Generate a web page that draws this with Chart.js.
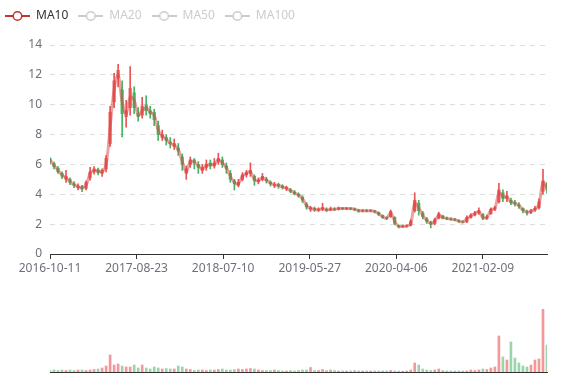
<!DOCTYPE html>
<html>
<head>
<meta charset="utf-8">
<script src="https://cdn.jsdelivr.net/npm/chart.js@4.4.1/dist/chart.umd.min.js"></script>
<style>
  html, body { margin: 0; padding: 0; background: #fff; }
  #wrap { position: relative; width: 577px; height: 380px; }
  #priceChart { position: absolute; left: 0; top: 0; }
  #volChart { position: absolute; left: 0; top: 280px; }
</style>
</head>
<body>
<div id="wrap">
  <canvas id="priceChart" width="577" height="280"></canvas>
  <canvas id="volChart" width="577" height="100"></canvas>
</div>
<script>
// one candle every 10 trading days
const STEP = 10;

const openP = [
  6.4, 6.05, 5.75, 5.4, 5.0, 5.0, 4.7, 4.45, 4.5, 4.4,
  5.1, 5.5, 5.65, 5.4, 5.7, 7.4, 10.2, 11.8, 11.0, 9.2,
  9.8, 10.8, 9.4, 9.3, 10.0, 9.6, 9.5, 8.6, 7.8, 7.8,
  7.5, 7.2, 7.1, 6.5, 5.4, 6.0, 6.3, 6.0, 5.6, 5.8,
  6.1, 5.9, 6.2, 6.3, 5.9, 5.4, 4.9, 4.6, 5.0, 5.3,
  5.4, 5.2, 4.85, 5.0, 5.0, 4.8, 4.6, 4.65, 4.55, 4.38,
  4.3, 4.15, 4.0, 3.8, 3.35, 3.0, 3.05, 2.95, 3.0, 3.0,
  2.95, 3.02, 3.0, 3.08, 3.03, 3.07, 3.02, 2.95, 2.88, 2.92,
  2.88, 2.88, 2.78, 2.58, 2.42, 2.5, 2.45, 1.9, 1.83, 1.86,
  1.92, 2.9, 3.4, 2.75, 2.35, 2.1, 2.05, 2.4, 2.55, 2.4,
  2.35, 2.32, 2.25, 2.16, 2.15, 2.45, 2.62, 2.75, 2.65, 2.38,
  2.7, 3.0, 3.5, 4.1, 3.7, 3.6, 3.45, 3.3, 3.05, 2.82,
  2.8, 2.95, 3.1, 4.2, 4.7
];
const closeP = [
  6.2, 5.85, 5.5, 5.2, 5.2, 4.8, 4.6, 4.55, 4.35, 4.8,
  5.5, 5.7, 5.45, 5.6, 6.4, 9.5, 11.6, 12.3, 9.4, 9.6,
  11.1, 9.8, 9.2, 9.9, 9.6, 9.4, 9.0, 8.0, 8.0, 7.6,
  7.4, 7.4, 6.9, 6.0, 5.7, 6.3, 6.1, 5.8, 5.8, 6.0,
  5.9, 6.1, 6.4, 6.0, 5.7, 5.0, 4.7, 4.8, 5.3, 5.45,
  5.6, 4.9, 4.95, 5.2, 4.9, 4.7, 4.65, 4.55, 4.45, 4.45,
  4.2, 4.05, 3.9, 3.6, 3.15, 3.1, 2.95, 3.0, 3.1, 2.92,
  3.02, 2.98, 3.08, 3.03, 3.07, 3.02, 2.97, 2.88, 2.92, 2.88,
  2.91, 2.82, 2.65, 2.45, 2.38, 2.85, 2.05, 1.83, 1.87, 1.9,
  2.2, 3.6, 2.9, 2.5, 2.2, 2.0, 2.3, 2.7, 2.4, 2.36,
  2.32, 2.28, 2.18, 2.14, 2.45, 2.6, 2.75, 2.9, 2.4, 2.5,
  3.0, 3.1, 4.3, 3.7, 3.9, 3.45, 3.35, 3.2, 2.9, 2.78,
  2.9, 3.05, 3.5, 4.9, 4.3
];
const lowP = [
  6.05, 5.7, 5.4, 5.05, 4.8, 4.65, 4.45, 4.3, 4.17, 4.3,
  4.95, 5.35, 5.3, 5.2, 5.5, 7.2, 9.8, 11.2, 7.85, 8.5,
  9.3, 9.4, 8.9, 9.1, 9.3, 9.1, 8.6, 7.6, 7.6, 7.3,
  7.1, 7.0, 6.6, 5.6, 5.0, 5.8, 5.7, 5.4, 5.4, 5.6,
  5.7, 5.75, 6.0, 5.8, 5.4, 4.8, 4.29, 4.5, 4.9, 5.15,
  5.2, 4.6, 4.7, 4.9, 4.75, 4.55, 4.45, 4.4, 4.35, 4.25,
  4.1, 3.95, 3.8, 3.45, 3.0, 2.85, 2.85, 2.85, 2.9, 2.85,
  2.9, 2.9, 2.95, 2.97, 2.97, 2.96, 2.9, 2.8, 2.82, 2.82,
  2.83, 2.75, 2.58, 2.38, 2.3, 2.45, 1.95, 1.75, 1.78, 1.8,
  1.88, 2.8, 2.6, 2.35, 2.05, 1.75, 1.95, 2.35, 2.35, 2.3,
  2.26, 2.22, 2.12, 2.08, 2.1, 2.4, 2.55, 2.65, 2.3, 2.32,
  2.65, 2.9, 3.4, 3.5, 3.5, 3.3, 3.2, 3.05, 2.75, 2.6,
  2.7, 2.85, 3.0, 4.0, 4.05
];
const highP = [
  6.45, 6.15, 5.85, 5.5, 5.6, 5.1, 4.85, 4.7, 4.6, 4.9,
  5.8, 5.85, 5.75, 5.7, 6.6, 9.9, 12.1, 12.7, 11.6, 10.3,
  12.55, 11.2, 9.8, 10.5, 10.6, 9.9, 9.7, 8.9, 8.3, 8.0,
  7.8, 7.7, 7.4, 6.7, 5.9, 6.5, 6.4, 6.2, 6.0, 6.3,
  6.3, 6.4, 6.75, 6.5, 6.1, 5.6, 5.0, 5.0, 5.45, 5.6,
  6.1, 5.3, 5.1, 5.4, 5.15, 4.9, 4.8, 4.75, 4.65, 4.55,
  4.4, 4.25, 4.1, 3.9, 3.45, 3.2, 3.15, 3.1, 3.4, 3.1,
  3.15, 3.1, 3.15, 3.12, 3.12, 3.1, 3.08, 3.0, 2.98, 2.98,
  2.97, 2.93, 2.82, 2.62, 2.5, 2.95, 2.5, 1.95, 1.93, 1.96,
  2.3, 4.1, 3.6, 2.85, 2.45, 2.2, 2.4, 2.8, 2.6, 2.48,
  2.42, 2.38, 2.3, 2.22, 2.55, 2.7, 2.85, 3.1, 2.7, 2.6,
  3.1, 3.2, 4.73, 4.3, 4.2, 3.75, 3.6, 3.45, 3.1, 2.95,
  3.0, 3.2, 3.7, 5.67, 4.8
];
const ma10 = [
  6.3, 5.95, 5.6, 5.3, 5.1, 4.85, 4.65, 4.5, 4.45, 4.6,
  5.4, 5.6, 5.55, 5.5, 6.0, 8.5, 11.0, 12.0, 10.2, 9.4,
  10.5, 10.3, 9.3, 9.6, 9.8, 9.5, 9.3, 8.3, 7.9, 7.7,
  7.4, 7.3, 7.0, 6.2, 5.5, 6.2, 6.15, 5.9, 5.7, 5.9,
  6.0, 6.0, 6.3, 6.1, 5.8, 5.2, 4.8, 4.7, 5.2, 5.4,
  5.5, 5.0, 4.9, 5.1, 4.95, 4.75, 4.62, 4.6, 4.5, 4.4,
  4.25, 4.1, 3.95, 3.7, 3.25, 3.05, 3.0, 2.95, 3.05, 2.95,
  3.0, 3.0, 3.05, 3.05, 3.05, 3.05, 3.0, 2.9, 2.9, 2.9,
  2.9, 2.85, 2.7, 2.5, 2.4, 2.75, 2.2, 1.85, 1.85, 1.87,
  2.05, 3.4, 3.1, 2.6, 2.25, 2.05, 2.2, 2.6, 2.45, 2.38,
  2.34, 2.3, 2.2, 2.15, 2.35, 2.55, 2.7, 2.85, 2.45, 2.45,
  2.95, 3.05, 4.1, 3.85, 3.8, 3.5, 3.4, 3.25, 2.95, 2.8,
  2.85, 3.0, 3.3, 4.8, 4.4
];
const volume = [
  15, 20, 15, 20, 15, 20, 15, 20, 20, 15,
  20, 25, 30, 40, 60, 170, 70, 80, 60, 50,
  50, 70, 40, 70, 40, 30, 50, 40, 30, 35,
  30, 30, 60, 50, 30, 25, 15, 20, 20, 15,
  20, 20, 25, 30, 20, 20, 25, 30, 25, 30,
  35, 30, 20, 15, 15, 15, 20, 15, 10, 10,
  15, 10, 15, 20, 20, 45, 15, 15, 25, 15,
  20, 15, 10, 10, 10, 10, 15, 10, 10, 10,
  10, 10, 10, 10, 10, 15, 10, 8, 8, 10,
  20, 90, 70, 30, 20, 15, 20, 30, 15, 10,
  10, 10, 10, 10, 10, 20, 15, 20, 30, 25,
  40, 50, 360, 150, 120, 300, 140, 90, 60, 50,
  70, 120, 130, 630, 270
];

const tickDays = [0, 216, 432, 648, 864, 1080];
const tickLabels = ['2016-10-11', '2017-08-23', '2018-07-10', '2019-05-27', '2020-04-06', '2021-02-09'];
const maNames = ['MA10', 'MA20', 'MA50', 'MA100'];

const upColor = '#eb5454';
const downColor = '#47b262';
const axisColor = '#6E7079';
const maColor = '#c23531';
const lastDay = (openP.length - 1) * STEP;

Chart.defaults.font.family = '"Noto Sans", "DejaVu Sans", sans-serif';
Chart.defaults.font.size = 12;

const isUp = i => closeP[i] >= openP[i];

function legendIcon(color) {
    const c = document.createElement('canvas');
    c.width = 25;
    c.height = 12;
    const g = c.getContext('2d');
    g.strokeStyle = color;
    g.lineWidth = 2;
    g.beginPath();
    g.moveTo(0, 6);
    g.lineTo(25, 6);
    g.stroke();
    g.beginPath();
    g.arc(12.5, 6, 4.3, 0, Math.PI * 2);
    g.fillStyle = '#fff';
    g.fill();
    g.lineWidth = 1.5;
    g.stroke();
    return c;
}

// Price chart (candles + MA10)
new Chart(document.getElementById('priceChart'), {
    type: 'bar',
    data: {
        datasets: [{
            type: 'line',
            label: 'MA10',
            data: ma10.map((v, i) => ({ x: i * STEP, y: v })),
            borderColor: 'rgba(214, 70, 66, 0.5)',
            borderWidth: 3,
            pointRadius: 0,
            tension: 0.35,
            order: 0
        }, {
            label: 'body',
            data: openP.map((o, i) => ({ x: i * STEP, y: [o, closeP[i]] })),
            backgroundColor: ctx => isUp(ctx.dataIndex) ? upColor : downColor,
            barThickness: 2.5,
            grouped: false,
            order: 1
        }, {
            label: 'wick',
            data: lowP.map((l, i) => ({ x: i * STEP, y: [l, highP[i]] })),
            backgroundColor: ctx => isUp(ctx.dataIndex) ? upColor : downColor,
            barThickness: 1,
            grouped: false,
            order: 2
        }]
    },
    options: {
        responsive: false,
        animation: false,
        layout: { padding: { left: -5, right: 30, top: 0, bottom: 0 } },
        plugins: {
            tooltip: { enabled: false },
            legend: {
                position: 'top',
                align: 'start',
                onClick: null,
                labels: {
                    usePointStyle: true,
                    pointStyleWidth: 25,
                    padding: 10,
                    font: { size: 12 },
                    generateLabels: () => maNames.map((name, i) => ({
                        text: name,
                        pointStyle: legendIcon(i === 0 ? maColor : '#ccc'),
                        fontColor: i === 0 ? '#333' : '#ccc',
                        hidden: false,
                        lineWidth: 0
                    }))
                }
            },
            // empty title used as a spacer under the legend
            title: {
                display: true,
                text: '',
                weight: 500,
                font: { size: 1, lineHeight: 1 },
                padding: { top: 0, bottom: 12 }
            }
        },
        scales: {
            x: {
                type: 'linear',
                min: 0,
                max: lastDay,
                offset: false,
                afterBuildTicks: s => { s.ticks = tickDays.map(v => ({ value: v })); },
                afterFit: s => { s.height = 26; },
                ticks: {
                    autoSkip: false,
                    maxRotation: 0,
                    color: axisColor,
                    padding: 2,
                    callback: (v, i) => tickLabels[i]
                },
                grid: { offset: false, drawOnChartArea: false, drawTicks: true, tickLength: 5, tickColor: '#333' },
                border: { display: true, color: '#333', width: 1 }
            },
            y: {
                min: 0,
                max: 14,
                afterFit: s => { s.width = 55; },
                ticks: { stepSize: 2, color: axisColor, padding: 8 },
                grid: { color: '#dddddd', drawTicks: false },
                border: { display: false, dash: [5, 5] }
            }
        }
    }
});

// Volume chart
new Chart(document.getElementById('volChart'), {
    type: 'bar',
    data: {
        datasets: [{
            label: 'Volume',
            data: volume.map((v, i) => ({ x: i * STEP, y: v })),
            backgroundColor: ctx => isUp(ctx.dataIndex) ? 'rgba(235, 84, 84, 0.6)' : 'rgba(71, 178, 98, 0.55)',
            barThickness: 2
        }]
    },
    options: {
        responsive: false,
        animation: false,
        layout: { padding: { left: 50, right: 30, top: 29, bottom: 0 } },
        plugins: { legend: { display: false }, tooltip: { enabled: false } },
        scales: {
            x: {
                type: 'linear',
                min: 0,
                max: lastDay,
                offset: false,
                afterFit: s => { s.height = 8; },
                ticks: { display: false },
                grid: { display: false, drawTicks: false },
                border: { display: true, color: '#333', width: 1 }
            },
            y: { display: false, min: 0, max: 630 }
        }
    }
});
</script>
</body>
</html>
